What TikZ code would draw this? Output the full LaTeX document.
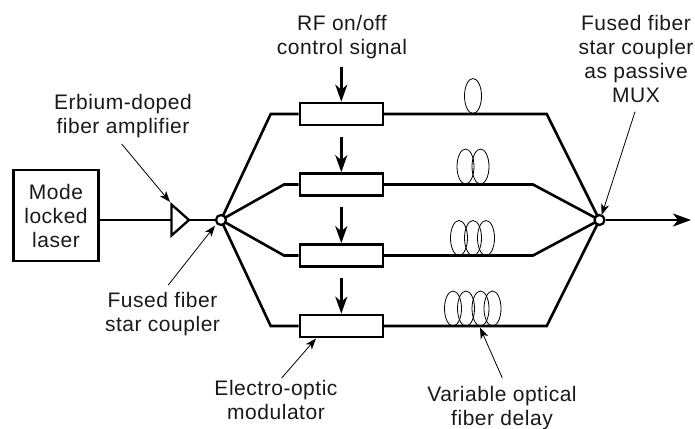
\documentclass[tikz,border=0pt]{standalone}
\usepackage{fontspec}
\setmainfont[LetterSpace=2.5]{Liberation Sans}
\usetikzlibrary{arrows.meta,shapes.geometric}
\tikzset{
  fiber/.style={line width=2.6pt},
  modbox/.style={draw,fill=white,line width=2.6pt,minimum width=83pt,minimum height=22pt,inner sep=0pt},
  coupler/.style={circle,draw,fill=white,line width=2.2pt,minimum size=10pt,inner sep=0pt},
  label/.style={align=center,font=\fontsize{21}{24}\selectfont,inner sep=0pt,text=black!90},
  ctrl/.style={line width=2.6pt,-{Stealth[length=17pt,width=12pt,inset=5pt]}},
  leader/.style={line width=0.8pt,-{Stealth[length=11pt,width=8pt,inset=3pt]}},
  loop/.style={draw,line width=0.8pt,ellipse,minimum width=17pt,minimum height=35pt,inner sep=0pt},
}
\begin{document}
\begin{tikzpicture}[x=1pt,y=-1pt]
\useasboundingbox (0,0) rectangle (695,428);
% laser
\node[draw,line width=2.6pt,minimum width=84.5pt,minimum height=91pt,label] (laser) at (56,215.5) {Mode\\locked\\laser};
% couplers
\coordinate (lc) at (221,220);
\coordinate (rc) at (599.5,220);
% amplifier
\coordinate (tl) at (171.5,204.5);
\coordinate (bl) at (171.5,235.5);
\coordinate (tip) at (189,220);
\coordinate (ampin) at (171.5,220);
\coordinate (laserout) at (laser.east |- ampin);
\draw[fiber] (laserout) -- (ampin);
\draw[fiber] (tip) -- (lc);
\draw[line width=2.3pt,line join=miter] (tl) -- (tip) -- (bl) -- cycle;
% modulators
\node[modbox] (m1) at (341.3,114) {};
\node[modbox] (m2) at (341.3,184.5) {};
\node[modbox] (m3) at (341.3,255.5) {};
\node[modbox] (m4) at (341.3,326) {};
% fibers
\draw[fiber] (lc) -- (270.7,114) -- (m1.west);
\draw[fiber] (lc) -- (284,184.5) -- (m2.west);
\draw[fiber] (lc) -- (284,255.5) -- (m3.west);
\draw[fiber] (lc) -- (270.7,326) -- (m4.west);
\draw[fiber] (m1.east) -- (546.7,114) -- (rc);
\draw[fiber] (m2.east) -- (533,184.5) -- (rc);
\draw[fiber] (m3.east) -- (533,255.5) -- (rc);
\draw[fiber] (m4.east) -- (546.7,326) -- (rc);
% loops
\node[loop] (l11) at (473,96) {};
\node[loop] (l21) at (465.5,166.5) {};
\node[loop] (l22) at (480.5,166.5) {};
\node[loop] (l31) at (459,238) {};
\node[loop] (l32) at (473,238) {};
\node[loop] (l33) at (486,238) {};
\node[loop] (l41) at (453,308.5) {};
\node[loop] (l42) at (466,308.5) {};
\node[loop] (l43) at (480.5,308.5) {};
\node[loop] (l44) at (492.5,308.5) {};
% coupler nodes
\node[coupler] (lcn) at (lc) {};
\node[coupler] (rcn) at (rc) {};
% output
\coordinate (out) at (691,220);
\draw[ctrl,-{Stealth[length=18pt,width=13pt,inset=5pt]}] (rcn) -- (out);
% control arrows
\coordinate (c0) at (341.3,67);
\coordinate (c1) at (341.3,137);
\coordinate (c2) at (341.3,207);
\coordinate (c3) at (341.3,278);
\draw[ctrl] (c0) -- (m1.north);
\draw[ctrl] (c1) -- (m2.north);
\draw[ctrl] (c2) -- (m3.north);
\draw[ctrl] (c3) -- (m4.north);
% labels
\node[label,anchor=base] (rf) at (342,54) {RF on/off\\control signal};
\node[label,anchor=base] (edfa) at (123,133) {Erbium-doped\\fiber amplifier};
\node[label,anchor=base] (fsc) at (162.5,331) {Fused fiber\\star coupler};
\node[label,anchor=base] (eom) at (276,419) {Electro-optic\\modulator};
\node[label,anchor=base] (vod) at (502,425) {Variable optical\\fiber delay};
\node[label,anchor=base] (mux) at (636,102) {Fused fiber\\star coupler\\as passive\\MUX};
% leaders
\coordinate (e0) at (121.7,144);
\coordinate (f0) at (168.3,285);
\coordinate (g0) at (281.7,378);
\coordinate (v0) at (502.3,378);
\coordinate (x0) at (635,111.7);
\coordinate (e1) at (170,202);
\coordinate (f1) at (215,225.7);
\coordinate (g1) at (316,338.5);
\coordinate (v1) at (480,327.5);
\coordinate (x1) at (601.7,215);
\draw[leader] (e0) -- (e1);
\draw[leader] (f0) -- (f1);
\draw[leader] (g0) -- (g1);
\draw[leader] (v0) -- (v1);
\draw[leader] (x0) -- (x1);
\end{tikzpicture}
\end{document}
